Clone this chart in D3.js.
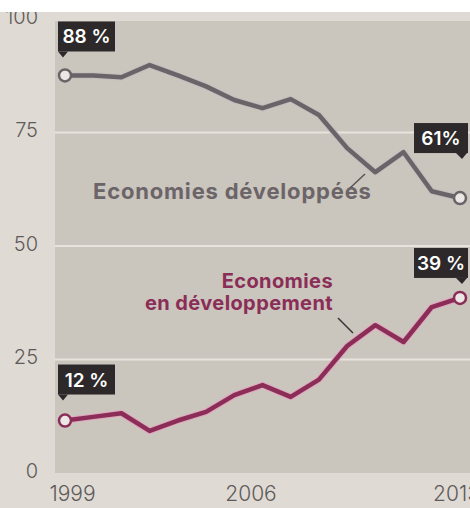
<!DOCTYPE html>
<html lang="fr">
<head>
<meta charset="utf-8">
<title>Economies</title>
<script src="https://d3js.org/d3.v7.min.js"></script>
<style>
  body { margin: 0; background: #ffffff; }
  svg { display: block; }
  .tick text { font-family: Inter, "Open Sans", sans-serif; font-weight: 300; fill: #5e5a5a; }
  .serie-label { font-family: Inter, "Open Sans", sans-serif; font-weight: 700; font-size: 20px; }
  .callout text { font-family: Inter, "Open Sans", sans-serif; font-weight: 600; font-size: 19px; fill: #fff; }
</style>
</head>
<body>
<svg width="470" height="508"></svg>
<script>
  // data
  var years = [1999, 2000, 2001, 2002, 2003, 2004, 2005, 2006, 2007, 2008, 2009, 2010, 2011, 2012, 2013];
  var developed = [88, 88, 87.6, 90.3, 88, 85.6, 82.6, 80.8, 82.8, 79.3, 72, 66.7, 71.1, 62.5, 61];
  var developing = [12, 12.8, 13.6, 9.7, 12, 13.9, 17.6, 19.8, 17.2, 21, 28.4, 33, 29.3, 37, 39];
  var yTicks = [0, 25, 50, 75, 100];
  var xTicks = [1999, 2006, 2013];

  var svg = d3.select("svg"),
    width = +svg.attr("width"),
    height = +svg.attr("height");

  var x = d3.scaleLinear().domain([1999, 2013]).range([65, 460]);
  var y = d3.scaleLinear().domain([0, 100]).range([475, 21]);

  // fond papier
  svg.append("rect").attr("width", width).attr("height", height).attr("fill", "#dfdbd4");
  svg.append("rect")
    .attr("x", 55).attr("y", y(100))
    .attr("width", width - 55).attr("height", y(0) - y(100) - 2)
    .attr("fill", "#cac5bd");

  // grille
  svg.append("g").selectAll("line")
    .data([25, 50, 75])
    .enter().append("line")
    .attr("x1", 55).attr("x2", width)
    .attr("y1", function(d) { return y(d) - 2; })
    .attr("y2", function(d) { return y(d) - 2; })
    .attr("stroke", "#e7e3dd")
    .attr("stroke-width", 2);

  // axes
  var yAxis = svg.append("g")
    .attr("transform", "translate(38,0)")
    .call(d3.axisLeft(y).tickValues(yTicks).tickSize(0).tickPadding(0));
  yAxis.select(".domain").remove();
  yAxis.selectAll("text").attr("font-size", 20).attr("dy", "0.12em");

  var xAxis = svg.append("g")
    .attr("transform", "translate(0,486)")
    .call(d3.axisBottom(x).tickValues(xTicks).tickFormat(d3.format("d")).tickSize(0).tickPadding(0));
  xAxis.select(".domain").remove();
  xAxis.selectAll("text").attr("font-size", 21).attr("dx", function(d) {
    return d == 1999 ? 7 : d == 2006 ? -12 : -4;
  });

  // lignes
  var line = d3.line()
    .x(function(d, i) { return x(years[i]); })
    .y(function(d) { return y(d); });

  var series = [
    { values: developed, color: "#6a6367", halo: "#c4bebf" },
    { values: developing, color: "#8a2d57", halo: "#e3a6bf" }
  ];

  series.forEach(function(s) {
    svg.append("path")
      .attr("d", line(s.values))
      .attr("fill", "none")
      .attr("stroke", s.halo)
      .attr("stroke-width", 6.5)
      .attr("stroke-linejoin", "round");
    svg.append("path")
      .attr("d", line(s.values))
      .attr("fill", "none")
      .attr("stroke", s.color)
      .attr("stroke-width", 4.5)
      .attr("stroke-linejoin", "round");
    [0, s.values.length - 1].forEach(function(i) {
      svg.append("circle")
        .attr("cx", x(years[i])).attr("cy", y(s.values[i]))
        .attr("r", 6)
        .attr("fill", "#ebe7e5")
        .attr("stroke", s.color)
        .attr("stroke-width", 2.5);
    });
  });

  // étiquettes des valeurs
  var callouts = [
    { text: "88 %", values: developed, i: 0, gap: 24, side: "left" },
    { text: "12 %", values: developing, i: 0, gap: 26, side: "left" },
    { text: "61%", values: developed, i: 14, gap: 45, side: "right" },
    { text: "39 %", values: developing, i: 14, gap: 20, side: "right" }
  ];

  callouts.forEach(function(c) {
    var px = x(years[c.i]), py = y(c.values[c.i]);
    var w = c.side == "left" ? 57 : 54, h = 30;
    var bottom = py - c.gap;
    var left = c.side == "left" ? px - 7 : px + 8 - w;
    var g = svg.append("g").attr("class", "callout");
    g.append("rect").attr("x", left).attr("y", bottom - h).attr("width", w).attr("height", h).attr("fill", "#2d292a");
    var tx = c.side == "left" ? left : left + w;
    var tip = c.side == "left" ? [[left, bottom], [left + 10, bottom], [left + 5, bottom + 6]]
                               : [[tx - 12, bottom], [tx - 1, bottom], [tx - 6, bottom + 6]];
    g.append("path").attr("d", d3.line()(tip) + "Z").attr("fill", "#2d292a");
    g.append("text")
      .attr("x", left + w / 2).attr("y", bottom - 8)
      .attr("text-anchor", "middle")
      .text(c.text);
  });

  // noms des séries
  svg.append("text")
    .attr("class", "serie-label")
    .attr("x", 93).attr("y", 199)
    .attr("fill", "#6b6468")
    .style("font-size", "22px")
    .style("letter-spacing", "0.8px")
    .text("Economies développées");
  svg.append("line")
    .attr("x1", 350).attr("y1", 188).attr("x2", 365).attr("y2", 174)
    .attr("stroke", "#5a5456").attr("stroke-width", 1.5);

  var dev = svg.append("text")
    .attr("class", "serie-label")
    .attr("text-anchor", "end")
    .attr("fill", "#8a2d57")
    .style("letter-spacing", "0.4px");
  dev.append("tspan").attr("x", 333).attr("y", 288).text("Economies");
  dev.append("tspan").attr("x", 333).attr("y", 310).text("en développement");
  svg.append("line")
    .attr("x1", 338).attr("y1", 318).attr("x2", 353).attr("y2", 333)
    .attr("stroke", "#3a3436").attr("stroke-width", 1.5);

  // bord blanc du haut
  svg.append("rect").attr("width", width).attr("height", 12).attr("fill", "#ffffff");
</script>
</body>
</html>
